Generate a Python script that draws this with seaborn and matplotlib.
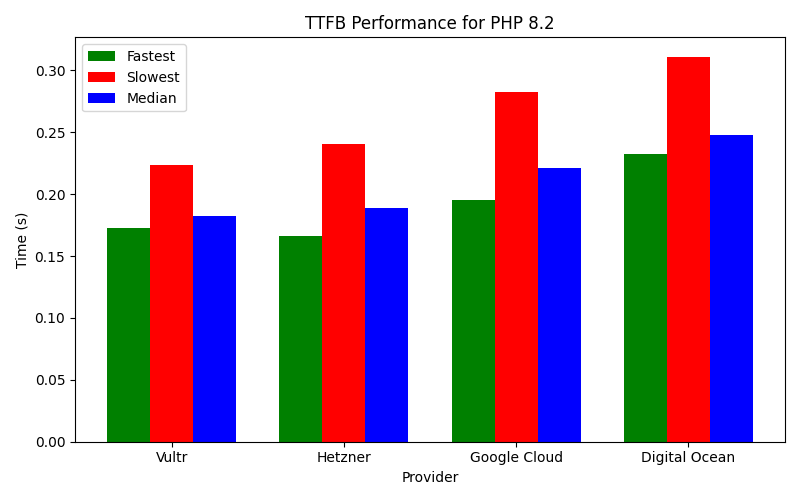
import pandas as pd
import matplotlib
matplotlib.use("Agg")
import matplotlib.pyplot as plt
import seaborn as sns

providers = ["Vultr", "Hetzner", "Google Cloud", "Digital Ocean"]
fastest = [0.1729, 0.1664, 0.1955, 0.2327]
slowest = [0.2238, 0.2408, 0.2828, 0.3111]
median = [0.1826, 0.1891, 0.2214, 0.2480]

df = pd.DataFrame({"Provider": providers, "Fastest": fastest, "Slowest": slowest, "Median": median})
df = df.melt(id_vars="Provider", var_name="Metric", value_name="Time")

fig, ax = plt.subplots(figsize=(8, 5), dpi=100)
sns.barplot(data=df, x="Provider", y="Time", hue="Metric", ax=ax,
            palette=["green", "red", "blue"], saturation=1, width=0.75,
            linewidth=0, errorbar=None)
ax.set_xlim(-0.5625, 3.5625)
ax.set_xlabel("Provider")
ax.set_ylabel("Time (s)")
ax.set_title("TTFB Performance for PHP 8.2")
ax.legend(loc="upper left", title=None)
plt.tight_layout()
plt.savefig("out.png")
